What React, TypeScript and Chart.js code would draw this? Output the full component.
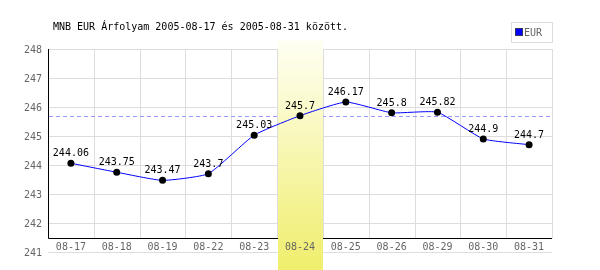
import React, { useEffect, useRef } from "react";
import { Chart, registerables } from "chart.js";

Chart.register(...registerables);

const categories = ["08-17", "08-18", "08-19", "08-22", "08-23", "08-24", "08-25", "08-26", "08-29", "08-30", "08-31"];
const eurValues = [244.06, 243.75, 243.47, 243.7, 245.03, 245.7, 246.17, 245.8, 245.82, 244.9, 244.7];
const yTicks = [241, 242, 243, 244, 245, 246, 247, 248];
const highlightIndex = 5;
const titleText = "MNB EUR Árfolyam 2005-08-17 és 2005-08-31 között.";
const seriesName = "EUR";

const FONT = "10px 'DejaVu Sans Mono', 'Liberation Mono', monospace";

const decorPlugin = {
  id: "decor",
  beforeDatasetsDraw(chart: any) {
    const { ctx, chartArea, scales } = chart;
    const xs = scales.x;
    const ys = scales.y;
    const left = chartArea.left;
    const right = chartArea.right;
    const top = chartArea.top;
    const bottom = chartArea.bottom;
    const axisY = Math.round(bottom - 14) + 0.5;
    const n = categories.length;
    const step = n > 1 ? xs.getPixelForValue(1) - xs.getPixelForValue(0) : right - left;
    const boundary = (i: number) => xs.getPixelForValue(i) - step / 2;

    ctx.save();
    // horizontal grid
    ctx.strokeStyle = "#dddddd";
    ctx.lineWidth = 1;
    yTicks.forEach((v) => {
      const y = Math.round(ys.getPixelForValue(v)) + 0.5;
      ctx.beginPath();
      ctx.moveTo(left, y);
      ctx.lineTo(right, y);
      ctx.stroke();
    });
    // vertical grid
    for (let i = 1; i <= n; i++) {
      const x = Math.round(boundary(i)) + 0.5;
      ctx.beginPath();
      ctx.moveTo(x, top);
      ctx.lineTo(x, axisY);
      ctx.stroke();
    }
    // axes
    ctx.strokeStyle = "#000000";
    ctx.beginPath();
    ctx.moveTo(Math.round(left) + 0.5, top);
    ctx.lineTo(Math.round(left) + 0.5, axisY);
    ctx.lineTo(right, axisY);
    ctx.stroke();
    // dashed reference line at highlighted value
    const refY = Math.round(ys.getPixelForValue(eurValues[highlightIndex])) + 0.5;
    ctx.strokeStyle = "#9999ff";
    ctx.setLineDash([4, 3]);
    ctx.beginPath();
    ctx.moveTo(left + 1, refY);
    ctx.lineTo(right, refY);
    ctx.stroke();
    ctx.setLineDash([]);
    // highlight column
    const hx0 = Math.round(boundary(highlightIndex)) + 1;
    const hx1 = Math.round(boundary(highlightIndex + 1));
    const hTop = top - 9;
    const hBottom = chart.height;
    const grad = ctx.createLinearGradient(0, hTop, 0, hBottom);
    grad.addColorStop(0, "#fffff4");
    grad.addColorStop(1, "#f0ee6c");
    ctx.fillStyle = grad;
    ctx.fillRect(hx0, hTop, hx1 - hx0, hBottom - hTop);
    // y labels
    ctx.font = FONT;
    ctx.fillStyle = "#666666";
    ctx.textAlign = "right";
    ctx.textBaseline = "middle";
    yTicks.forEach((v) => {
      ctx.fillText(String(v), left - 6, ys.getPixelForValue(v) + 1);
    });
    // x labels
    ctx.textAlign = "center";
    categories.forEach((c, i) => {
      ctx.fillText(c, xs.getPixelForValue(i), axisY + 9);
    });
    ctx.restore();
  },
  afterDatasetsDraw(chart: any) {
    const { ctx, scales } = chart;
    const xs = scales.x;
    const ys = scales.y;
    ctx.save();
    ctx.font = FONT;
    ctx.fillStyle = "#000000";
    ctx.textAlign = "center";
    ctx.textBaseline = "alphabetic";
    eurValues.forEach((v, i) => {
      ctx.fillText(String(v), xs.getPixelForValue(i), ys.getPixelForValue(v) - 7);
    });
    // title
    ctx.textAlign = "left";
    ctx.textBaseline = "middle";
    ctx.fillText(titleText, 53, 27);
    // legend
    ctx.strokeStyle = "#dddddd";
    ctx.lineWidth = 1;
    ctx.strokeRect(511.5, 22.5, 41, 20);
    ctx.fillStyle = "#0000ff";
    ctx.fillRect(516, 29, 6, 6);
    ctx.strokeStyle = "#333366";
    ctx.strokeRect(515.5, 28.5, 7, 7);
    ctx.fillStyle = "#666666";
    ctx.fillText(seriesName, 524, 33);
    ctx.restore();
  },
};

export default function App() {
  const ref = useRef<HTMLCanvasElement | null>(null);
  useEffect(() => {
    if (!ref.current) return;
    const chart = new Chart(ref.current, {
      type: "line",
      data: {
        labels: categories,
        datasets: [
          {
            label: seriesName,
            data: eurValues,
            borderColor: "#0000ff",
            borderWidth: 1,
            pointRadius: 3.5,
            pointBackgroundColor: "#000000",
            pointBorderColor: "#000000",
            pointBorderWidth: 0,
            tension: 0.15,
            fill: false,
          },
        ],
      },
      options: {
        animation: false,
        responsive: false,
        maintainAspectRatio: false,
        layout: { padding: { left: 48, right: 48, top: 49, bottom: 18 } },
        plugins: { legend: { display: false }, tooltip: { enabled: false }, title: { display: false } },
        scales: {
          x: { type: "category", offset: true, display: false },
          y: { type: "linear", min: 241, max: 248, display: false },
        },
      },
      plugins: [decorPlugin],
    });
    return () => chart.destroy();
  }, []);
  return (
    <div style={{ position: "absolute", left: 0, top: 0, width: 600, height: 270, background: "#ffffff" }}>
      <canvas ref={ref} width={600} height={270} style={{ width: 600, height: 270, display: "block" }} />
    </div>
  );
}
